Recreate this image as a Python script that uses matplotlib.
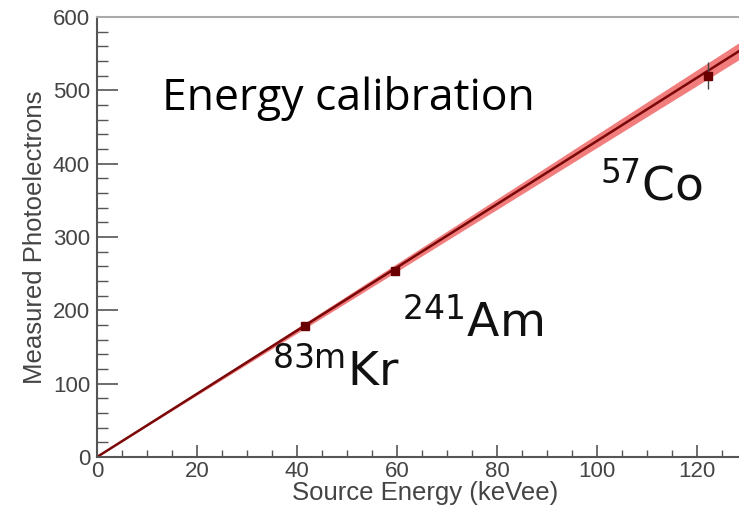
import numpy as np
import matplotlib
matplotlib.use("Agg")
import matplotlib.pyplot as plt
from matplotlib.ticker import MultipleLocator

# Calibration sources: energy (keVee) and measured photoelectrons
sources = ["83mKr", "241Am", "57Co"]
energy_kev = [41.5, 59.5, 122.2]
photoelectrons = [178, 254, 520]
pe_errors = [3, 4, 18]

# Linear fit through the origin and its slope uncertainty
fit_slope = 4.31
fit_slope_err = 0.09

# Label text for each source (mass number, element) and placement in data coords
label_mass = ["83m", "241", "57"]
label_elem = ["Kr", "Am", "Co"]
label_pos = [(35.0, 98.0), (61.0, 164.0), (100.6, 350.0)]

plt.rcParams["mathtext.fontset"] = "custom"
plt.rcParams["mathtext.rm"] = "Open Sans"
plt.rcParams["mathtext.it"] = "Open Sans"

fig = plt.figure(figsize=(7.39, 5.13), dpi=100)
ax = fig.add_axes([97 / 739, 1 - 457 / 513, 1 - 97 / 739, 440 / 513])

xmax = 642 / 5
ax.set_xlim(0, xmax)
ax.set_ylim(0, 600)

xs = np.linspace(0, xmax, 200)
ax.fill_between(xs, xs * (fit_slope - fit_slope_err), xs * (fit_slope + fit_slope_err),
                color="#ee5c5c", alpha=0.8, lw=0, zorder=1)
ax.plot(xs, xs * fit_slope, color="#7a0808", lw=1.8, zorder=2)

ax.errorbar(energy_kev, photoelectrons, yerr=pe_errors, fmt="s", ms=6,
            color="#6a0000", ecolor="#444444", elinewidth=1.0, capsize=0, zorder=3)

ax.text(13.0, 473, "Energy calibration", fontsize=32, family="Open Sans",
        color="black", va="baseline", ha="left")

for (lx, ly), mass, elem in zip(label_pos, label_mass, label_elem):
    ax.text(lx, ly, r"$\mathregular{^{%s}%s}$" % (mass, elem), fontsize=34,
            color="#111111", va="baseline", ha="left")

ax.spines["right"].set_visible(False)
ax.spines["top"].set_color("#aaaaaa")
ax.spines["top"].set_linewidth(1.5)
for s in ("left", "bottom"):
    ax.spines[s].set_color("#555555")
    ax.spines[s].set_linewidth(1.5)

ax.xaxis.set_major_locator(MultipleLocator(20))
ax.xaxis.set_minor_locator(MultipleLocator(5))
ax.yaxis.set_major_locator(MultipleLocator(100))
ax.yaxis.set_minor_locator(MultipleLocator(20))

ax.tick_params(axis="x", which="major", direction="in", length=9, width=1.2,
               color="#555555", labelsize=16, labelcolor="#444444", pad=3, top=False)
ax.tick_params(axis="x", which="minor", direction="in", length=5, width=1.0,
               color="#555555", top=False)
ax.tick_params(axis="y", which="major", direction="in", length=15, width=1.2,
               color="#555555", labelsize=16, labelcolor="#444444", pad=5, right=False)
ax.tick_params(axis="y", which="minor", direction="in", length=8, width=1.0,
               color="#555555", right=False)

for lab in ax.get_xticklabels() + ax.get_yticklabels():
    lab.set_family("Liberation Sans")

ax.set_xlabel("Source Energy (keVee)", fontsize=18.5, family="Liberation Sans",
              color="#444444")
ax.set_ylabel("Measured Photoelectrons", fontsize=18.5, family="Liberation Sans",
              color="#444444")
ax.xaxis.set_label_coords((425 - 97) / 642, -36 / 440)
ax.yaxis.set_label_coords(-(97 - 35) / 642, 0.5)
ax.xaxis.label.set_va("center")
ax.yaxis.label.set_va("center")

fig.savefig("out.png", dpi=100)
